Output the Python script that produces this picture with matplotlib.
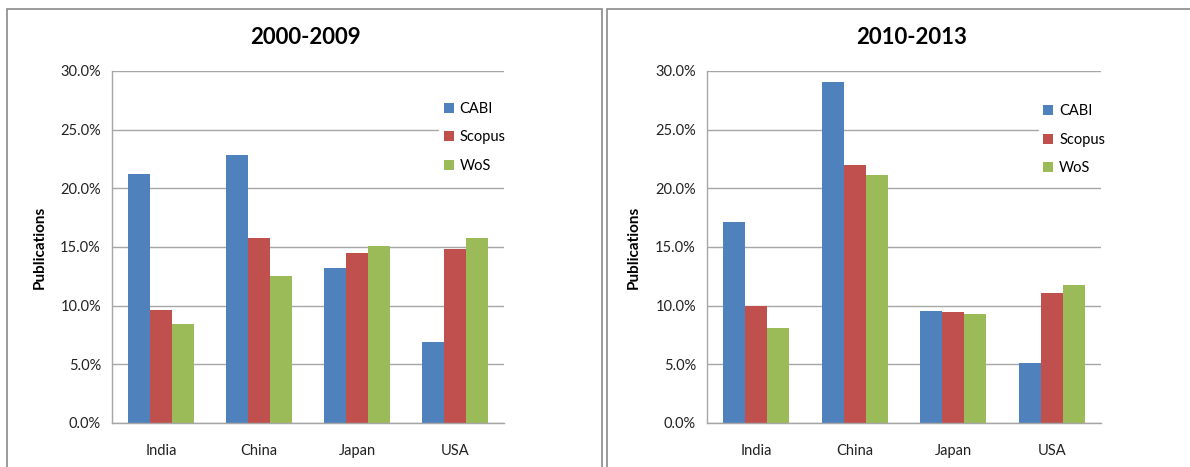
import matplotlib
matplotlib.use("Agg")
import matplotlib.pyplot as plt
import numpy as np
from matplotlib.patches import Rectangle
from matplotlib.ticker import FuncFormatter

countries = ["India", "China", "Japan", "USA"]
series = ["CABI", "Scopus", "WoS"]
p1_title = "2000-2009"
p1_cabi = [21.2, 22.85, 13.2, 6.9]
p1_scopus = [9.6, 15.8, 14.5, 14.8]
p1_wos = [8.4, 12.5, 15.1, 15.8]
p2_title = "2010-2013"
p2_cabi = [17.1, 29.05, 9.55, 5.15]
p2_scopus = [10.0, 22.0, 9.45, 11.05]
p2_wos = [8.1, 21.1, 9.3, 11.8]
yticks = [0, 5, 10, 15, 20, 25, 30]

colors = ["#4F81BD", "#C0504D", "#9BBB59"]
plt.rcParams['font.family'] = ['Lato', 'DejaVu Sans']

W, H = 1190, 467
fig = plt.figure(figsize=(W / 100, H / 100), dpi=100)

# panel borders
for (x0, x1) in [(7, 602), (607, 1195)]:
    fig.patches.append(Rectangle((x0 / W, -0.05), (x1 - x0) / W, (H - 9) / H + 0.05,
                                 transform=fig.transFigure, fill=False,
                                 edgecolor="#8a8a8a", linewidth=1.2))

panels = [
    (p1_title, [p1_cabi, p1_scopus, p1_wos], 112, 504, 305, 40, (0.835, 0.925)),
    (p2_title, [p2_cabi, p2_scopus, p2_wos], 707, 1101, 912, 634, (0.842, 0.918)),
]

bw = 0.222
for title, data, ax_l, ax_r, tx, ylx, leg_pos in panels:
    top, bot = 71, 423
    ax = fig.add_axes([ax_l / W, (H - bot) / H, (ax_r - ax_l) / W, (bot - top) / H])
    x = np.arange(len(countries))
    for i, (vals, c, name) in enumerate(zip(data, colors, series)):
        ax.bar(x + (i - 1) * bw, vals, width=bw, color=c, label=name, zorder=3)
    ax.set_xlim(-0.5, len(countries) - 0.5)
    ax.set_ylim(0, 30)
    ax.set_yticks(yticks)
    ax.yaxis.set_major_formatter(FuncFormatter(lambda v, p: f"{v:.1f}%"))
    ax.set_xticks(x)
    ax.set_xticklabels(countries)
    ax.grid(axis="y", color="#a6a6a6", linewidth=1.0, zorder=0)
    for s in ["top", "right"]:
        ax.spines[s].set_visible(False)
    for s in ["left", "bottom"]:
        ax.spines[s].set_color("#a6a6a6")
        ax.spines[s].set_linewidth(1.0)
        ax.spines[s].set_zorder(4)
    ax.tick_params(axis="both", length=0, labelsize=10.5, colors="#222222", pad=8)
    ax.tick_params(axis="x", pad=15)
    leg = ax.legend(loc="upper left", bbox_to_anchor=leg_pos,
                    frameon=True, fontsize=10.5, handlelength=0.7, handleheight=0.7,
                    handletextpad=0.4, labelspacing=1.0, borderpad=0.3,
                    borderaxespad=0)
    leg.get_frame().set_edgecolor("white")
    leg.get_frame().set_facecolor("white")
    leg.get_frame().set_alpha(1)
    leg.get_frame().set_boxstyle("square", pad=0)
    leg.set_zorder(5)
    fig.text(tx / W, (H - 37) / H, title, ha="center", va="center",
             fontsize=16, fontweight="bold")
    fig.text(ylx / W, (H - 247) / H, "Publications", ha="center", va="center",
             rotation=90, fontsize=11, fontweight="bold")

fig.savefig("out.png", dpi=100)
